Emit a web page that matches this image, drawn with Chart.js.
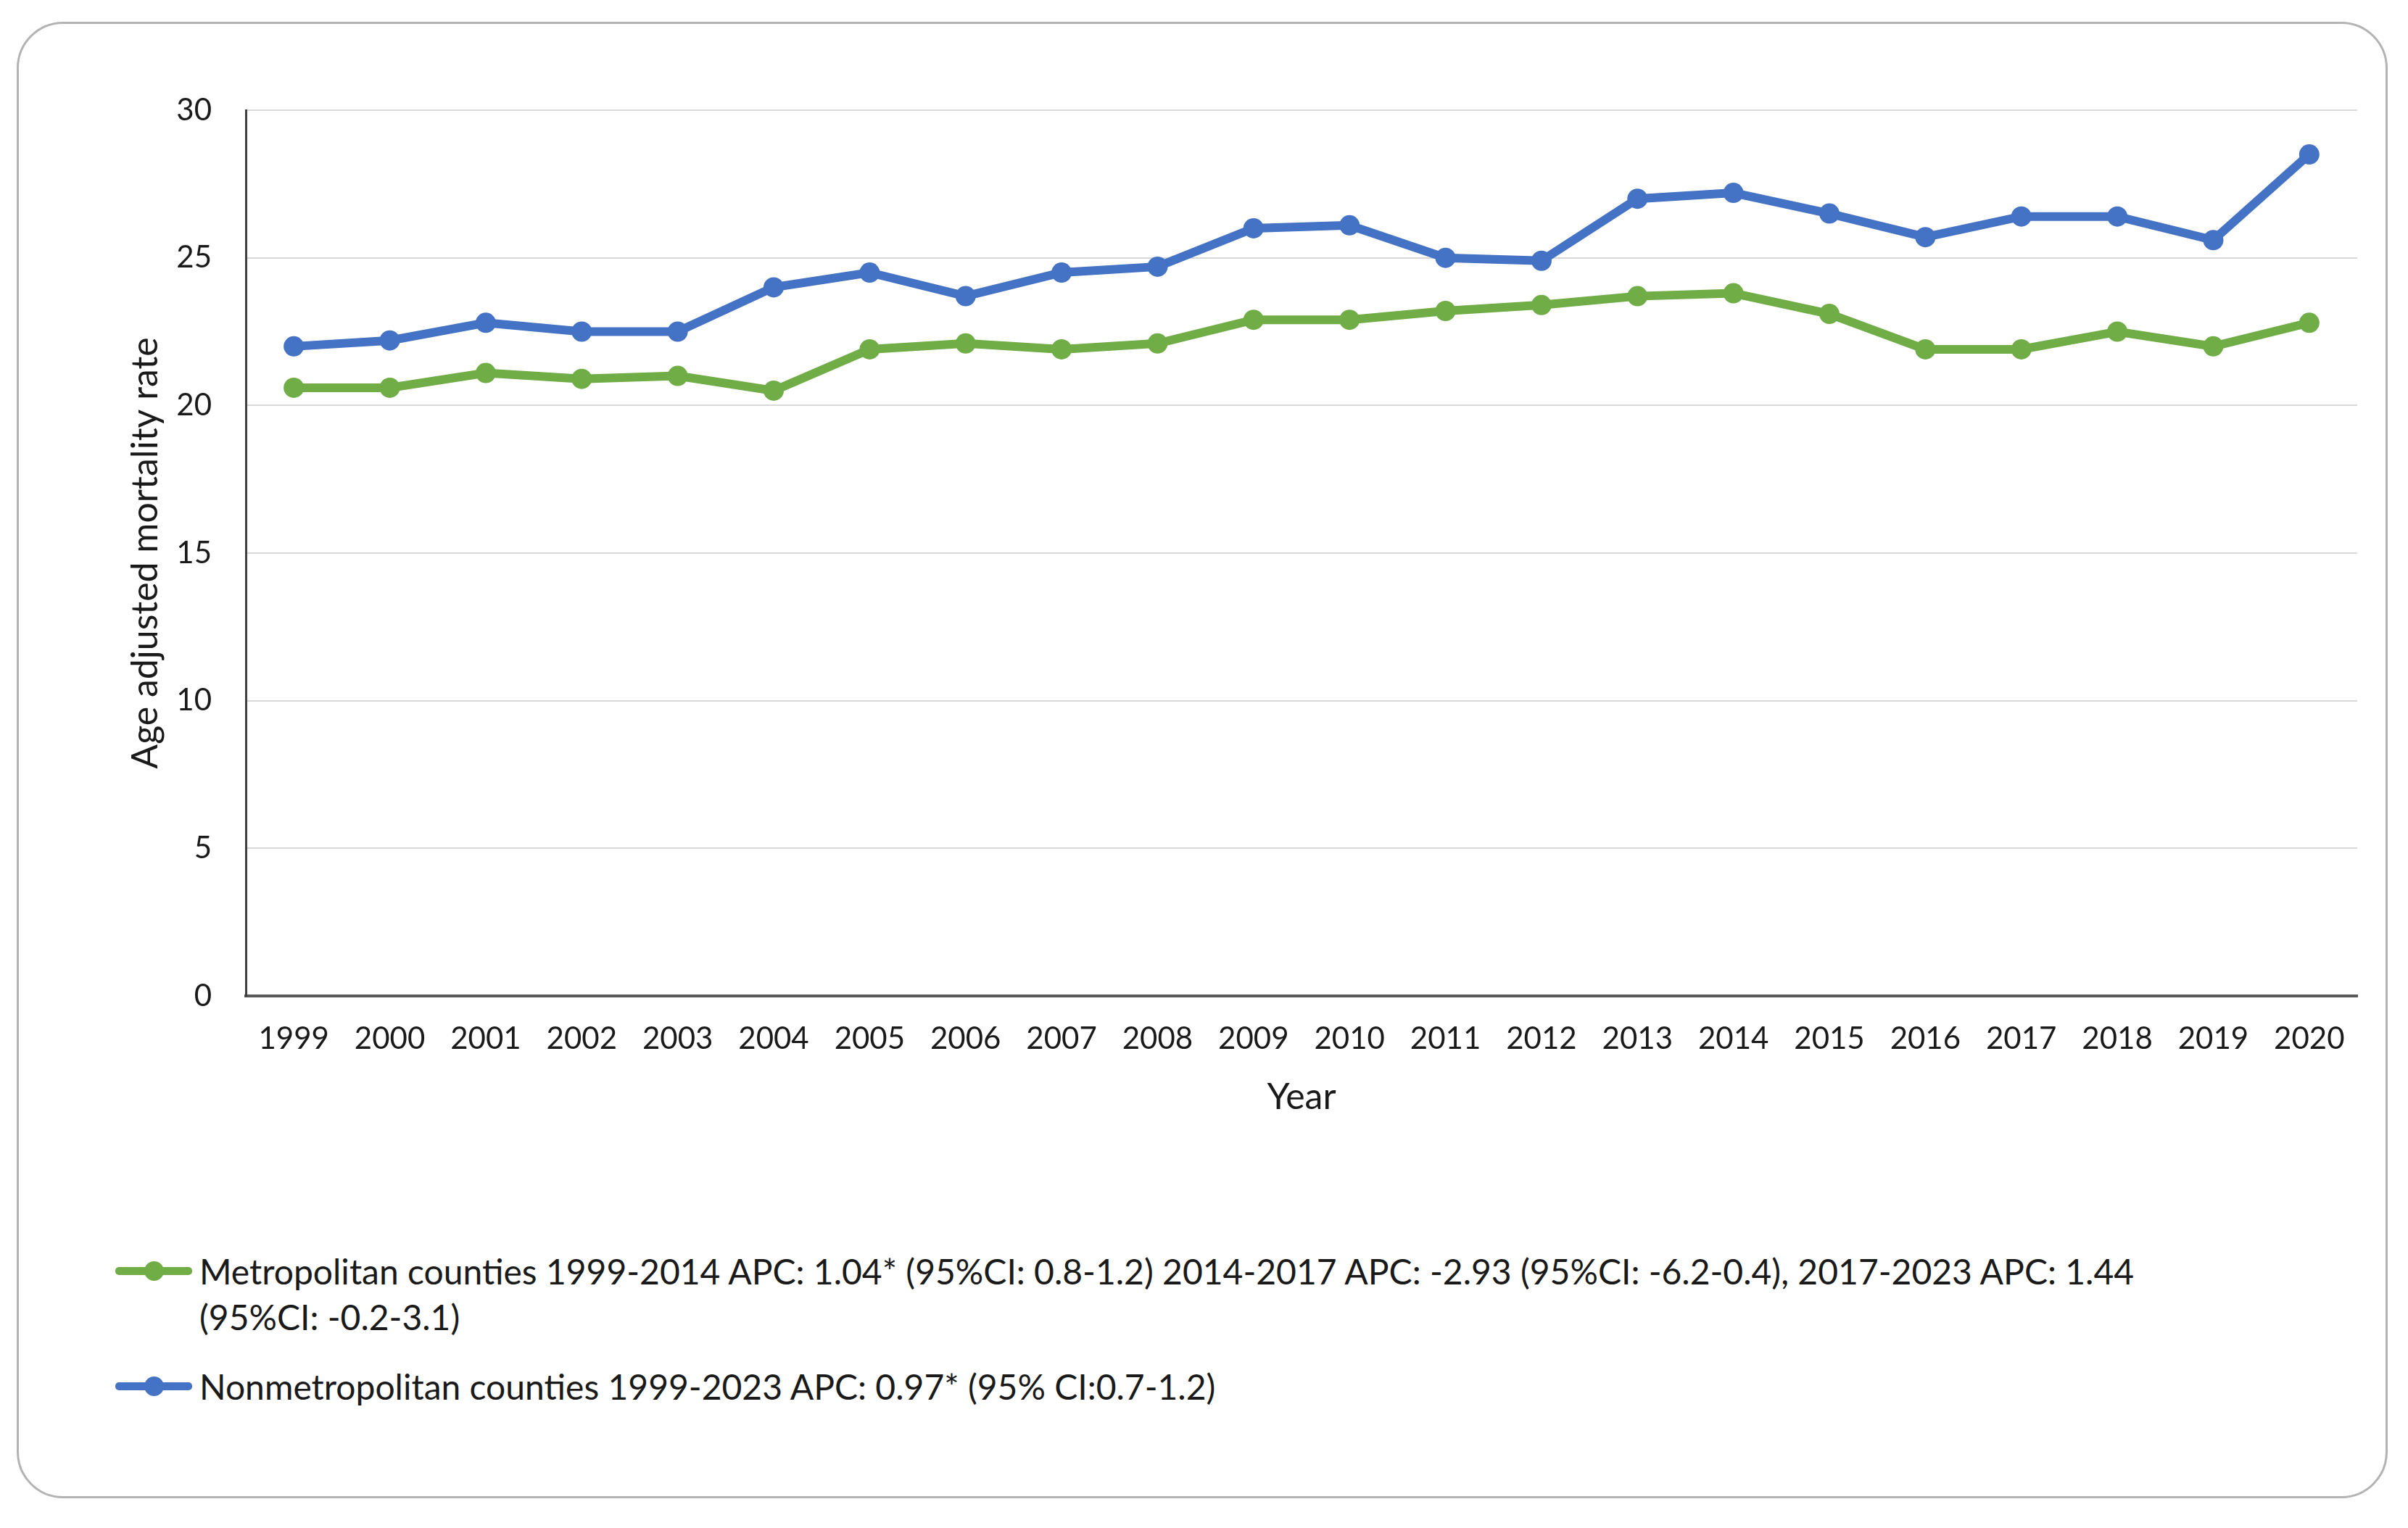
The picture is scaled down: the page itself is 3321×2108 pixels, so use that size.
<!DOCTYPE html>
<html>
<head>
<meta charset="utf-8">
<script src="https://cdn.jsdelivr.net/npm/chart.js@4.4.1/dist/chart.umd.min.js"></script>
<style>
    html, body {
        margin: 0;
        padding: 0;
        background: #ffffff;
    }
    #page {
        position: relative;
        width: 3321px;
        height: 2108px;
        background: #ffffff;
        overflow: hidden;
        font-family: Lato, 'Open Sans', sans-serif;
    }
    #frame {
        position: absolute;
        left: 23px;
        top: 30px;
        width: 3264px;
        height: 2031px;
        border: 3px solid #b3b3b3;
        border-radius: 64px;
    }
    #mortalityChart {
        position: absolute;
        left: 0;
        top: 0;
    }
    #legend {
        position: absolute;
        left: 159px;
        top: 1722px;
        width: 3050px;
    }
    .legend-item {
        display: flex;
        align-items: flex-start;
        margin-bottom: 33px;
    }
    .legend-marker {
        position: relative;
        flex: 0 0 106px;
        height: 63px;
        margin-right: 10px;
    }
    .legend-marker .line {
        position: absolute;
        left: 0;
        right: 0;
        top: 26px;
        height: 11px;
        border-radius: 5px;
    }
    .legend-marker .dot {
        position: absolute;
        left: 40px;
        top: 18px;
        width: 27px;
        height: 27px;
        border-radius: 50%;
    }
    .legend-text {
        font-size: 48px;
        line-height: 63px;
        color: #1a1a1a;
    }
</style>
</head>
<body>
<div id="page">
    <div id="frame"></div>
    <canvas id="mortalityChart" width="3321" height="1600" style="width:3321px;height:1600px;"></canvas>
    <div id="legend"></div>
</div>

<script>
// Podaci grafikona
const years = ['1999', '2000', '2001', '2002', '2003', '2004', '2005', '2006', '2007', '2008', '2009',
    '2010', '2011', '2012', '2013', '2014', '2015', '2016', '2017', '2018', '2019', '2020'];

const metroRates = [20.6, 20.6, 21.1, 20.9, 21.0, 20.5, 21.9, 22.1, 21.9, 22.1, 22.9,
    22.9, 23.2, 23.4, 23.7, 23.8, 23.1, 21.9, 21.9, 22.5, 22.0, 22.8];

const nonMetroRates = [22.0, 22.2, 22.8, 22.5, 22.5, 24.0, 24.5, 23.7, 24.5, 24.7, 26.0,
    26.1, 25.0, 24.9, 27.0, 27.2, 26.5, 25.7, 26.4, 26.4, 25.6, 28.5];

const yTicks = [0, 5, 10, 15, 20, 25, 30];

const metroLabel = [
    'Metropolitan counties 1999-2014 APC: 1.04* (95%CI: 0.8-1.2) 2014-2017 APC: -2.93 (95%CI: -6.2-0.4), 2017-2023 APC: 1.44',
    '(95%CI: -0.2-3.1)'
];
const nonMetroLabel = ['Nonmetropolitan counties 1999-2023 APC: 0.97* (95% CI:0.7-1.2)'];

const green = '#70AD47';
const blue = '#4472C4';
const textColor = '#1a1a1a';
const fontFamily = "Lato, 'Open Sans', sans-serif";

const datasets = [
    {
        label: metroLabel,
        data: metroRates,
        borderColor: green,
        backgroundColor: green,
        borderWidth: 12,
        pointRadius: 14,
        pointBorderWidth: 0,
        pointBackgroundColor: green,
        tension: 0
    },
    {
        label: nonMetroLabel,
        data: nonMetroRates,
        borderColor: blue,
        backgroundColor: blue,
        borderWidth: 12,
        pointRadius: 14,
        pointBorderWidth: 0,
        pointBackgroundColor: blue,
        tension: 0
    }
];

const ctx = document.getElementById('mortalityChart');

const chart = new Chart(ctx, {
    type: 'line',
    data: {
        labels: years,
        datasets: datasets
    },
    options: {
        responsive: false,
        devicePixelRatio: 1,
        animation: false,
        layout: {
            padding: { top: 152, right: 70, bottom: 0, left: 0 }
        },
        plugins: {
            legend: { display: false },
            tooltip: { enabled: false }
        },
        scales: {
            x: {
                offset: true,
                grid: { display: false, drawTicks: false },
                border: { display: true, color: '#595959', width: 4 },
                ticks: {
                    color: textColor,
                    padding: 34,
                    maxRotation: 0,
                    autoSkip: false,
                    font: { family: fontFamily, size: 42 }
                },
                title: {
                    display: true,
                    text: 'Year',
                    color: textColor,
                    padding: { top: 0, bottom: 56 },
                    font: { family: fontFamily, size: 50 }
                },
                afterFit: (scale) => { scale.height = 226; }
            },
            y: {
                min: 0,
                max: 30,
                afterBuildTicks: (scale) => {
                    scale.ticks = yTicks.map(v => ({ value: v }));
                },
                grid: { color: '#d9d9d9', lineWidth: 2, drawTicks: false },
                border: { display: true, color: '#404040', width: 3 },
                ticks: {
                    color: textColor,
                    padding: 47,
                    font: { family: fontFamily, size: 42 }
                },
                title: {
                    display: true,
                    text: 'Age adjusted mortality rate',
                    color: textColor,
                    padding: { top: 171, bottom: 0 },
                    font: { family: fontFamily, size: 50 }
                },
                afterFit: (scale) => { scale.width = 339; }
            }
        }
    }
});

// Legenda sa prelomom teksta
const legendEl = document.getElementById('legend');
datasets.forEach(ds => {
    const item = document.createElement('div');
    item.className = 'legend-item';

    const marker = document.createElement('div');
    marker.className = 'legend-marker';
    const line = document.createElement('div');
    line.className = 'line';
    line.style.background = ds.borderColor;
    const dot = document.createElement('div');
    dot.className = 'dot';
    dot.style.background = ds.borderColor;
    marker.appendChild(line);
    marker.appendChild(dot);

    const text = document.createElement('div');
    text.className = 'legend-text';
    ds.label.forEach((part, i) => {
        if (i > 0) text.appendChild(document.createElement('br'));
        text.appendChild(document.createTextNode(part));
    });

    item.appendChild(marker);
    item.appendChild(text);
    legendEl.appendChild(item);
});
</script>
</body>
</html>
